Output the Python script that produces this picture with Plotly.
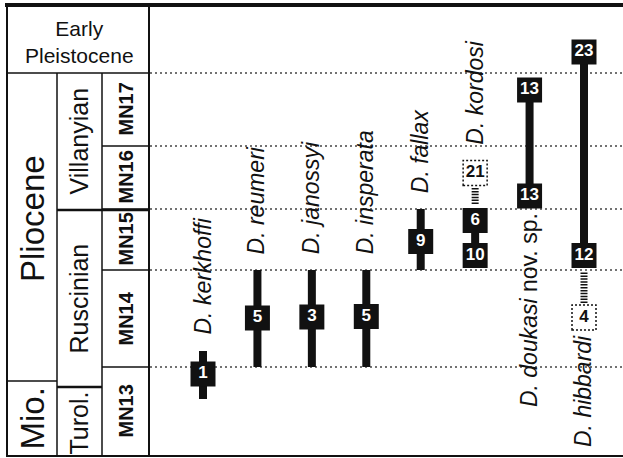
import plotly.graph_objects as go

W, H = 623, 458

# ---------------- data ----------------
# stratigraphic scale (relative position units, bottom -> top)
zone_names = ["MN13", "MN14", "MN15", "MN16", "MN17"]
zone_bounds = [2, 91, 188, 249, 312, 385]
chart_top = 453

stage_names = ["Turol.", "Ruscinian", "Villanyian"]
stage_bounds = [2, 71, 248, 385]

epoch_names = ["Mio.", "Pliocene"]
epoch_bounds = [2, 77, 385]
top_epoch = "Early<br>Pleistocene"

species = ["D. kerkhoffi", "D. reumeri", "D. janossyi", "D. insperata",
           "D. fallax", "D. kordosi", "D. doukasi", "D. hibbardi"]
species_suffix = ["", "", "", "", "", "", " nov. sp.", ""]
label_side = ["above", "above", "above", "above", "above", "above", "below", "below"]

# confirmed stratigraphic range
range_lo = [59, 91, 91, 91, 188, 190, 262, 202.5]
range_hi = [107, 188, 188, 188, 249, 250, 368, 406]

# localities (black boxes): species index, position, number of localities
rec_species = [0, 1, 2, 3, 4, 5, 5, 6, 6, 7, 7]
rec_pos = [84, 140, 141, 141.5, 216.5, 237.5, 202.5, 368, 262, 406, 202.5]
rec_count = [1, 5, 3, 5, 9, 6, 10, 13, 13, 23, 12]

# uncertain records (dotted boxes)
unc_species = [5, 7]
unc_pos = [285, 140.5]
unc_count = [21, 4]

# uncertain range extensions (hatched)
ext_species = [5, 7]
ext_lo = [254, 155]
ext_hi = [271, 186]

# ---------------- figure ----------------
col_x = list(range(1, len(species) + 1))
s = (584 - 203) / 7.0
x_range = [1 - 203 / s, 8 + (W - 584) / s]
FONT = "Liberation Sans"

def px(p):
    return p / W

fig = go.Figure()

# range lines
lx, ly = [], []
for i in range(len(species)):
    lx += [col_x[i], col_x[i], None]
    ly += [range_lo[i], range_hi[i], None]
fig.add_trace(go.Scatter(x=lx, y=ly, mode="lines",
                         line=dict(color="#111", width=8),
                         hoverinfo="skip", showlegend=False))

# hatched extensions
hx, hy = [], []
for k in range(len(ext_species)):
    hx += [col_x[ext_species[k]], col_x[ext_species[k]], None]
    hy += [ext_lo[k], ext_hi[k], None]
fig.add_trace(go.Scatter(x=hx, y=hy, mode="lines",
                         line=dict(color="#111", width=7, dash="1.5px,1.4px"),
                         hoverinfo="skip", showlegend=False))

# locality boxes
fig.add_trace(go.Scatter(
    x=[col_x[i] for i in rec_species], y=rec_pos,
    mode="markers+text", text=[str(c) for c in rec_count],
    textposition="middle center",
    textfont=dict(family=FONT, size=17, color="white", weight="bold"),
    marker=dict(symbol="square", size=25, color="#111", line=dict(width=0)),
    hoverinfo="skip", showlegend=False))

# uncertain records
fig.add_trace(go.Scatter(
    x=[col_x[i] for i in unc_species], y=unc_pos,
    mode="text", text=[str(c) for c in unc_count],
    textposition="middle center",
    textfont=dict(family=FONT, size=17, color="#111", weight="bold"),
    hoverinfo="skip", showlegend=False))

shapes = []
for k in range(len(unc_species)):
    shapes.append(dict(type="rect", xref="x", yref="y",
                       xsizemode="pixel", ysizemode="pixel",
                       xanchor=col_x[unc_species[k]], yanchor=unc_pos[k],
                       x0=-12, x1=12, y0=-12.5, y1=12.5,
                       line=dict(color="#111", width=1.5, dash="2px,2px"),
                       layer="above"))

# dotted zone boundaries across the chart
for b in zone_bounds[1:]:
    shapes.append(dict(type="line", xref="paper", yref="y",
                       x0=px(150), x1=1, y0=b, y1=b,
                       line=dict(color="#444", width=1.3, dash="2px,3px"),
                       layer="below"))

def hline(y, xa, xb, w=1.5):
    shapes.append(dict(type="line", xref="paper", yref="y", x0=px(xa), x1=px(xb),
                       y0=y, y1=y, line=dict(color="#111", width=w), layer="above"))

def vline(x, ya, yb, w=1.5):
    shapes.append(dict(type="line", xref="paper", yref="y", x0=px(x), x1=px(x),
                       y0=ya, y1=yb, line=dict(color="#111", width=w), layer="above"))

# frame
hline(chart_top, 5, W, 4)
hline(zone_bounds[0], 6, W, 2)
vline(7, zone_bounds[0], chart_top, 2)
vline(149, zone_bounds[0], chart_top, 2)
# left table
hline(zone_bounds[-1], 7, 149, 1.5)
vline(57, zone_bounds[0], zone_bounds[-1], 1.5)
vline(102, zone_bounds[0], zone_bounds[-1], 1.5)
for b in zone_bounds[1:-1]:
    hline(b, 102, 149, 1.5)
hline(stage_bounds[1], 57, 102, 2.5)
hline(stage_bounds[2], 57, 149, 2.5)
hline(epoch_bounds[1], 7, 57, 1.5)

ann = []
ann.append(dict(xref="paper", yref="y", x=px(80), y=(epoch_bounds[-1] + chart_top) / 2,
                yshift=-3,
                text=top_epoch, showarrow=False, xanchor="center", yanchor="middle",
                font=dict(family=FONT, size=21, color="#111")))
epoch_shift = [0, 8]
for i, name in enumerate(epoch_names):
    ann.append(dict(xref="paper", yref="y", x=px(32), y=(epoch_bounds[i] + epoch_bounds[i + 1]) / 2,
                    yshift=epoch_shift[i],
                    text=name, showarrow=False, textangle=-90, xanchor="center", yanchor="middle",
                    font=dict(family=FONT, size=33, color="#111")))
stage_shift = [-2, 0, 0]
for i, name in enumerate(stage_names):
    ann.append(dict(xref="paper", yref="y", x=px(78), y=(stage_bounds[i] + stage_bounds[i + 1]) / 2,
                    yshift=stage_shift[i],
                    text=name, showarrow=False, textangle=-90, xanchor="center", yanchor="middle",
                    font=dict(family=FONT, size=25, color="#111")))
for i, name in enumerate(zone_names):
    ann.append(dict(xref="paper", yref="y", x=px(125), y=(zone_bounds[i] + zone_bounds[i + 1]) / 2,
                    text="<b>%s</b>" % name, showarrow=False, textangle=-90,
                    xanchor="center", yanchor="middle",
                    font=dict(family=FONT, size=20, color="#111")))

# species labels
half = 12.5
for i, name in enumerate(species):
    txt = "<i>%s</i>%s" % (name, species_suffix[i])
    if label_side[i] == "above":
        cands = [(range_hi[i], 0)]
        cands += [(p, half) for sp, p in zip(rec_species, rec_pos) if sp == i]
        cands += [(p, half) for sp, p in zip(unc_species, unc_pos) if sp == i]
        cands += [(h, 0) for sp, h in zip(ext_species, ext_hi) if sp == i]
        y, off = max(cands, key=lambda t: t[0] + t[1])
        ann.append(dict(xref="x", yref="y", x=col_x[i], y=y, yshift=off + 14, xshift=-1,
                        text=txt, showarrow=False, textangle=-90,
                        xanchor="center", yanchor="bottom",
                        font=dict(family=FONT, size=23, color="#111")))
    else:
        cands = [(range_lo[i], 0)]
        cands += [(p, half) for sp, p in zip(rec_species, rec_pos) if sp == i]
        cands += [(p, half) for sp, p in zip(unc_species, unc_pos) if sp == i]
        cands += [(l, 0) for sp, l in zip(ext_species, ext_lo) if sp == i]
        y, off = min(cands, key=lambda t: t[0] - t[1])
        ann.append(dict(xref="x", yref="y", x=col_x[i], y=y, yshift=-off - 3, xshift=-1,
                        text=txt, showarrow=False, textangle=-90,
                        xanchor="center", yanchor="top",
                        font=dict(family=FONT, size=23, color="#111")))

fig.update_layout(
    width=W, height=H, margin=dict(l=0, r=0, t=0, b=0),
    paper_bgcolor="white", plot_bgcolor="white",
    xaxis=dict(range=x_range, visible=False, fixedrange=True),
    yaxis=dict(range=[0, H], visible=False, fixedrange=True),
    shapes=shapes, annotations=ann, showlegend=False,
)

fig.write_html("out.html", config={"displayModeBar": False},
               post_script="document.body.style.margin='0px';")
